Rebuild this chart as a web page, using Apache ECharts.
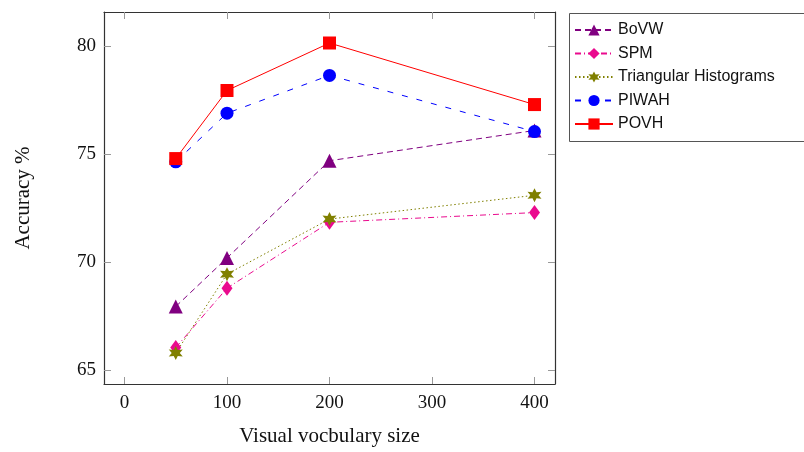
<!DOCTYPE html>
<html><head><meta charset="utf-8">
<script src="https://cdn.jsdelivr.net/npm/echarts@6/dist/echarts.min.js"></script>
<style>html,body{margin:0;padding:0;background:#fff}#c{width:804px;height:452px}</style>
</head><body><div id="c"></div>
<script>
const sizes = [50, 100, 200, 400];
const bovw = [67.95, 70.2, 74.7, 76.1];
const spm = [66.05, 68.8, 71.85, 72.3];
const triHist = [65.8, 69.45, 72.0, 73.1];
const piwah = [74.65, 76.9, 78.65, 76.05];
const povh = [74.8, 77.95, 80.15, 77.3];
const xTicks = [0, 100, 200, 300, 400];
const yTicks = [65, 70, 75, 80];
const seriesNames = ['BoVW', 'SPM', 'Triangular Histograms', 'PIWAH', 'POVH'];

const all = [].concat(bovw, spm, triHist, piwah, povh);
const dmin = Math.min.apply(null, all), dmax = Math.max.apply(null, all);
const pad = (dmax - dmin) * 0.1;
const yMin = dmin - pad, yMax = dmax + pad;

const starPath = 'path://M10 0 L12.5 5.67 L18.66 5 L15 10 L18.66 15 L12.5 14.33 L10 20 L7.5 14.33 L1.34 15 L5 10 L1.34 5 L7.5 5.67 Z';
const serif = '"Liberation Serif", "DejaVu Serif", serif';

function mk(name, vals, color, dash, symbol, size) {
  return {
    name: name, type: 'line', data: sizes.map((s, i) => [s, vals[i]]),
    symbol: symbol, symbolSize: size, showSymbol: true,
    itemStyle: { color: color },
    lineStyle: { color: color, width: 1, type: dash },
    emphasis: { disabled: true }, animation: false
  };
}

function xAx(pos, show) {
  return {
    type: 'value', position: pos, min: -20, max: 420,
    axisLine: { show: true, onZero: false, lineStyle: { color: '#333', width: 1.2 } },
    axisTick: { show: true, inside: true, length: 7, customValues: xTicks, lineStyle: { color: '#999' } },
    axisLabel: { show: show, customValues: xTicks, margin: 10, fontFamily: serif, fontSize: 19, color: '#111' },
    splitLine: { show: false },
    name: show ? 'Visual vocbulary size' : '', nameLocation: 'middle', nameGap: 42,
    nameTextStyle: { fontFamily: serif, fontSize: 21, color: '#111' }
  };
}
function yAx(pos, show) {
  return {
    type: 'value', position: pos, min: yMin, max: yMax,
    axisLine: { show: true, onZero: false, lineStyle: { color: '#333', width: 1.2 } },
    axisTick: { show: true, inside: true, length: 7, customValues: yTicks, lineStyle: { color: '#999' } },
    axisLabel: { show: show, customValues: yTicks, margin: 8, fontFamily: serif, fontSize: 19, color: '#111' },
    splitLine: { show: false },
    name: show ? 'Accuracy %' : '', nameLocation: 'middle', nameGap: 70,
    nameTextStyle: { fontFamily: serif, fontSize: 21, color: '#111' }
  };
}

const chart = echarts.init(document.getElementById('c'), null, { renderer: 'canvas' });
chart.setOption({
  animation: false,
  backgroundColor: '#fff',
  grid: { left: 104, right: 249, top: 12, bottom: 66 },
  xAxis: [xAx('bottom', true), xAx('top', false)],
  yAxis: [yAx('left', true), yAx('right', false)],
  graphic: [{
    type: 'rect', left: 567, top: 11, silent: true,
    shape: { width: 245, height: 128 },
    style: { fill: 'none', stroke: '#555', lineWidth: 1 }
  }],
  legend: {
    orient: 'vertical', left: 568, top: 14,
    padding: [8, 6, 8, 6], itemGap: 7.5,
    itemWidth: 38, itemHeight: 14,
    borderWidth: 0,
    textStyle: { fontFamily: '"Liberation Sans", Arial, sans-serif', fontSize: 16, color: '#111' },
    data: seriesNames
  },
  series: [
    mk(seriesNames[0], bovw, '#800080', [6, 4], 'triangle', 14),
    mk(seriesNames[1], spm, '#ea0a8e', [6, 3, 1, 3], 'diamond', [11, 15]),
    mk(seriesNames[2], triHist, '#808000', [1.5, 2.5], starPath, 14),
    mk(seriesNames[3], piwah, '#0000ff', [6, 9], 'circle', 13),
    mk(seriesNames[4], povh, '#ff0000', 'solid', 'rect', 13)
  ]
});
</script></body></html>
